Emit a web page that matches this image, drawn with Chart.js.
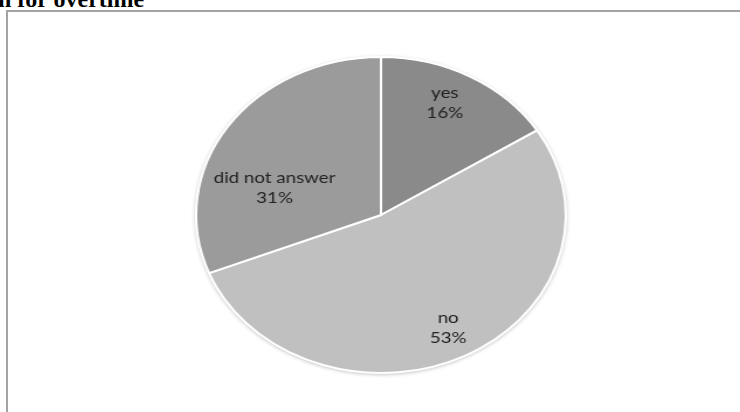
<!DOCTYPE html>
<html>
<head>
<meta charset="utf-8">
<script src="https://cdn.jsdelivr.net/npm/chart.js@4.4.1/dist/chart.umd.min.js"></script>
<style>
    body { margin: 0; background: #fff; width: 740px; height: 412px; overflow: hidden; position: relative; }
    #heading { position: absolute; left: -2px; top: -13px; font: bold 24px "Liberation Serif", "Times New Roman", serif; line-height: 24px; color: #000; white-space: nowrap; }
    #frame { position: absolute; left: 6px; top: 10px; width: 760px; height: 420px; border-left: 2px solid #a3a3a3; border-top: 2px solid #a3a3a3; }
    #pieBox { position: absolute; left: 181px; top: 45px; width: 400px; height: 340px; transform: scaleX(1.17); transform-origin: 50% 50%; }
</style>
</head>
<body>
<div id="heading">n for overtime</div>
<div id="frame"></div>
<div id="pieBox"><canvas id="overtimePie"></canvas></div>
<script>
var answers = ["yes", "no", "did not answer"];
var shares = [16, 53, 31];
var sliceColors = ["#8a8a8a", "#c0c0c0", "#9b9b9b"];

// where each label sits inside its slice: fraction of the sweep, fraction of the radius
var labelSpot = [[0.45, 0.79], [0.5, 0.8], [0.34, 0.6]];

var pieShadow = {
    id: "pieShadow",
    beforeDatasetsDraw: function(chart) {
        var arc = chart.getDatasetMeta(0).data[0];
        var p = arc.getProps(["x", "y", "outerRadius"], true);
        var ctx = chart.ctx;
        ctx.save();
        ctx.shadowColor = "rgba(0, 0, 0, 0.35)";
        ctx.shadowBlur = 4;
        ctx.shadowOffsetY = 1;
        ctx.fillStyle = "#c0c0c0";
        ctx.beginPath();
        ctx.arc(p.x, p.y, p.outerRadius, 0, Math.PI * 2);
        ctx.fill();
        ctx.restore();
    }
};

var sliceLabels = {
    id: "sliceLabels",
    afterDatasetsDraw: function(chart) {
        var ctx = chart.ctx;
        var meta = chart.getDatasetMeta(0);
        ctx.save();
        ctx.fillStyle = "#222222";
        ctx.font = "16px Lato, 'Open Sans', sans-serif";
        ctx.textAlign = "center";
        ctx.textBaseline = "middle";
        meta.data.forEach(function(arc, i) {
            var p = arc.getProps(["x", "y", "startAngle", "endAngle", "outerRadius"], true);
            var a = p.startAngle + (p.endAngle - p.startAngle) * labelSpot[i][0];
            var r = p.outerRadius * labelSpot[i][1];
            var cx = p.x + Math.cos(a) * r;
            var cy = p.y + Math.sin(a) * r;
            ctx.fillText(answers[i], cx, cy - 10);
            ctx.fillText(shares[i] + "%", cx, cy + 10);
        });
        ctx.restore();
    }
};

var overtimePie = new Chart(document.getElementById("overtimePie"), {
    type: "pie",
    data: {
        labels: answers,
        datasets: [{
            data: shares,
            backgroundColor: sliceColors,
            borderColor: "#ffffff",
            borderWidth: 2
        }]
    },
    options: {
        responsive: true,
        maintainAspectRatio: false,
        animation: false,
        layout: { padding: 11 },
        plugins: {
            legend: { display: false },
            tooltip: { enabled: false }
        }
    },
    plugins: [pieShadow, sliceLabels]
});
</script>
</body>
</html>
